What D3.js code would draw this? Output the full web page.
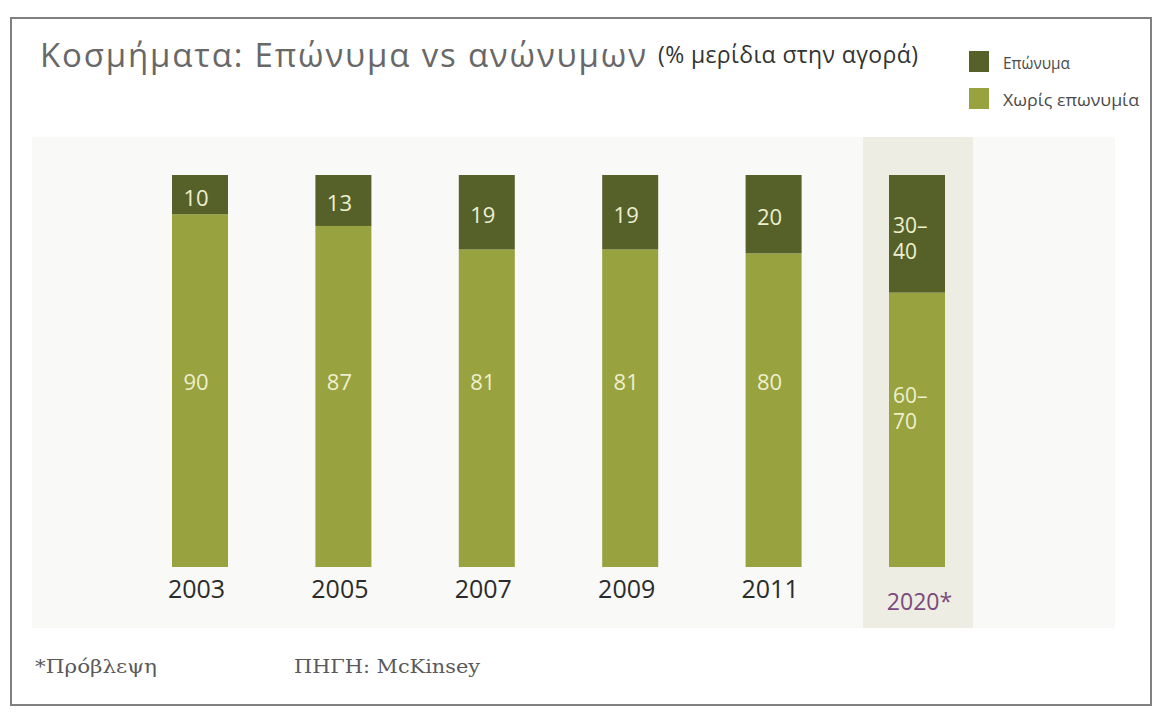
<!DOCTYPE html>
<html>
<head>
<meta charset="utf-8">
<script src="https://cdn.jsdelivr.net/npm/d3@7"></script>
<style>
  html, body { margin: 0; padding: 0; background: #ffffff; }
  svg { display: block; }
</style>
</head>
<body>
<svg id="chart" width="1156" height="713"></svg>
<script>
// Market share of jewellery: branded vs unbranded (%)
const years = ["2003", "2005", "2007", "2009", "2011", "2020*"];
const branded = [10, 13, 19, 19, 20, 30];
const unbranded = [90, 87, 81, 81, 80, 70];
const brandedLabels = ["10", "13", "19", "19", "20", "30–\n40"];
const unbrandedLabels = ["90", "87", "81", "81", "80", "60–\n70"];
const forecastYear = "2020*";
const seriesNames = ["Επώνυμα", "Χωρίς επωνυμία"];

const colors = { branded: "#56612a", unbranded: "#98a23f" };
const sans = "'Open Sans', 'Noto Sans', sans-serif";
const serif = "'DejaVu Serif', 'Liberation Serif', serif";

const svg = d3.select("#chart");

// outer frame
svg.append("rect")
  .attr("x", 11).attr("y", 18).attr("width", 1140).attr("height", 687)
  .attr("fill", "#ffffff").attr("stroke", "#808080").attr("stroke-width", 2);

// plot panel
svg.append("rect")
  .attr("x", 32).attr("y", 137).attr("width", 1083).attr("height", 491)
  .attr("fill", "#f9f9f7");

const x = d3.scalePoint().domain(years).range([200, 917]);
const y = d3.scaleLinear().domain([0, 100]).range([567, 175]);
const barW = 56;

// forecast column highlight
svg.append("rect")
  .attr("x", x(forecastYear) - 54).attr("y", 137)
  .attr("width", 110).attr("height", 491)
  .attr("fill", "#eeede3");

const rows = years.map((yr, i) => ({
  year: yr, branded: branded[i], unbranded: unbranded[i],
  bLabel: brandedLabels[i], uLabel: unbrandedLabels[i]
}));
const isRange = s => s.includes("\n");

const g = svg.append("g");

// unbranded segment (bottom)
g.selectAll("rect.unb").data(rows).join("rect")
  .attr("class", "unb")
  .attr("x", d => x(d.year) - barW / 2)
  .attr("y", d => y(d.unbranded))
  .attr("width", barW)
  .attr("height", d => y(0) - y(d.unbranded))
  .attr("fill", colors.unbranded);

// branded segment (top)
g.selectAll("rect.br").data(rows).join("rect")
  .attr("class", "br")
  .attr("x", d => x(d.year) - barW / 2)
  .attr("y", d => y(d.unbranded + d.branded))
  .attr("width", barW)
  .attr("height", d => y(d.unbranded) - y(d.unbranded + d.branded))
  .attr("fill", colors.branded);

// value labels; ranges are split over two lines and left aligned
function drawLabel(sel, textFn, yFn) {
  sel.each(function (d) {
    const lines = textFn(d).split("\n");
    const multi = lines.length > 1;
    const lx = multi ? x(d.year) - barW / 2 + 4 : x(d.year) - 4;
    const t = d3.select(this)
      .attr("y", yFn(d))
      .attr("text-anchor", multi ? "start" : "middle")
      .attr("dominant-baseline", "central")
      .attr("fill", "#eef0cf")
      .attr("font-family", sans)
      .attr("font-size", multi ? 21 : 22);
    lines.forEach((ln, k) => {
      t.append("tspan")
        .attr("x", lx)
        .attr("dy", k === 0 ? 0 : 26)
        .text(ln);
    });
  });
}

g.selectAll("text.bl").data(rows).join("text").attr("class", "bl")
  .call(drawLabel, d => d.bLabel,
    d => isRange(d.bLabel)
      ? y(d.unbranded + d.branded) + 50
      : (y(d.unbranded + d.branded) + y(d.unbranded)) / 2 + 2);

g.selectAll("text.ul").data(rows).join("text").attr("class", "ul")
  .call(drawLabel, d => d.uLabel, d => isRange(d.uLabel) ? y(44) : y(47.5));

// year axis
const axis = svg.append("g")
  .attr("transform", `translate(0, ${y(0)})`)
  .call(d3.axisBottom(x).tickSize(0).tickPadding(0));
axis.select(".domain").remove();
axis.selectAll(".tick text")
  .attr("dy", 0)
  .attr("x", d => d === forecastYear ? 2 : -4)
  .attr("y", d => d === forecastYear ? 43 : 31)
  .attr("font-family", sans)
  .attr("font-size", d => d === forecastYear ? 23 : 25)
  .attr("fill", d => d === forecastYear ? "#7b4a7c" : "#2b2b2b");

// title
svg.append("text")
  .attr("x", 40).attr("y", 67)
  .attr("font-family", sans).attr("font-size", 33).attr("fill", "#686868")
  .attr("textLength", 606).attr("lengthAdjust", "spacing")
  .text("Κοσμήματα: Επώνυμα vs ανώνυμων");
svg.append("text")
  .attr("x", 658).attr("y", 63)
  .attr("font-family", sans).attr("font-size", 23).attr("fill", "#333333")
  .attr("textLength", 260).attr("lengthAdjust", "spacing")
  .text("(% μερίδια στην αγορά)");

// legend
const legend = svg.append("g").attr("transform", "translate(969, 51)");
[colors.branded, colors.unbranded].forEach((c, i) => {
  legend.append("rect")
    .attr("x", 0).attr("y", i * 37).attr("width", 20).attr("height", 21)
    .attr("fill", c);
  legend.append("text")
    .attr("x", 34).attr("y", i * 37 + 11)
    .attr("dominant-baseline", "central")
    .attr("font-family", sans).attr("font-size", 17).attr("fill", "#4a4a4a")
    .attr("textLength", i === 0 ? 67 : 136).attr("lengthAdjust", "spacingAndGlyphs")
    .text(seriesNames[i]);
});

// footer
svg.append("text")
  .attr("x", 35).attr("y", 673)
  .attr("font-family", serif).attr("font-size", 19).attr("fill", "#5a5a5a")
  .attr("textLength", 122).attr("lengthAdjust", "spacingAndGlyphs")
  .text("*Πρόβλεψη");
svg.append("text")
  .attr("x", 294).attr("y", 673)
  .attr("font-family", serif).attr("font-size", 19).attr("fill", "#5a5a5a")
  .attr("textLength", 186).attr("lengthAdjust", "spacingAndGlyphs")
  .text("ΠΗΓΗ: McKinsey");
</script>
</body>
</html>
